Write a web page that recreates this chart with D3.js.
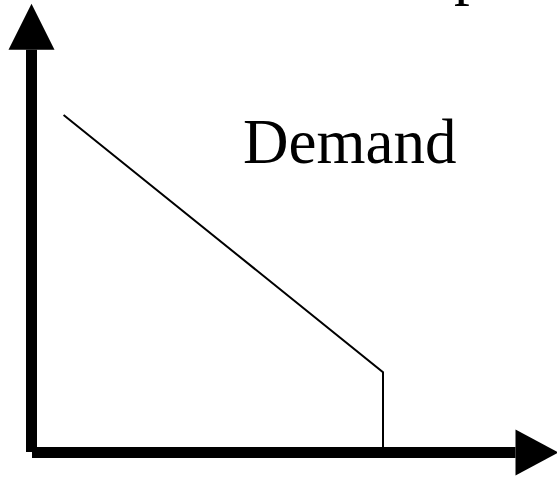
<!DOCTYPE html>
<html>
<head>
<meta charset="utf-8">
<script src="https://cdn.jsdelivr.net/npm/d3@7"></script>
<style>
  body { margin: 0; background: #fff; }
  svg { display: block; }
</style>
</head>
<body>
<svg width="557" height="477"></svg>
<script>
(function () {
  'use strict';

  // demand curve: quantity / price pairs, the kink then straight down to the axis
  var quantity = [0.9, 10, 10];
  var price = [10, 2.37, 0];

  // axis extents (tip of each arrow)
  var axisMaxQ = [15];
  var axisMaxP = [13.3];

  var labels = ["Demand", "p"];

  var svg = d3.select("svg"),
      width = +svg.attr("width"),
      height = +svg.attr("height");

  var x = d3.scaleLinear().domain([0, 10]).range([32, 383]);
  var y = d3.scaleLinear().domain([0, 10]).range([452, 115]);

  //axes drawn as thick strokes with solid arrow heads
  var head = 46, headLen = 43;

  svg.append("line")
      .attr("x1", x(0)).attr("y1", y(0) + 0.5)
      .attr("x2", x(axisMaxQ[0]) - headLen).attr("y2", y(0) + 0.5)
      .attr("stroke", "#000").attr("stroke-width", 11);

  svg.append("path")
      .attr("d", "M" + x(axisMaxQ[0]) + "," + (y(0) + 0.5) +
                 "L" + (x(axisMaxQ[0]) - headLen) + "," + (y(0) + 0.5 - head / 2) +
                 "L" + (x(axisMaxQ[0]) - headLen) + "," + (y(0) + 0.5 + head / 2) + "Z")
      .attr("fill", "#000");

  svg.append("line")
      .attr("x1", x(0) - 0.5).attr("y1", y(0))
      .attr("x2", x(0) - 0.5).attr("y2", y(axisMaxP[0]) + 46)
      .attr("stroke", "#000").attr("stroke-width", 11);

  svg.append("path")
      .attr("d", "M" + (x(0) - 0.5) + "," + y(axisMaxP[0]) +
                 "L" + (x(0) - 0.5 - head / 2) + "," + (y(axisMaxP[0]) + 46) +
                 "L" + (x(0) - 0.5 + head / 2) + "," + (y(axisMaxP[0]) + 46) + "Z")
      .attr("fill", "#000");

  //the demand line itself
  var line = d3.line()
      .x(function(d) { return x(d[0]); })
      .y(function(d) { return y(d[1]); });

  svg.append("path")
      .datum(d3.zip(quantity, price))
      .attr("d", line)
      .attr("fill", "none")
      .attr("stroke", "#000")
      .attr("stroke-width", 2);

  svg.append("text")
      .attr("x", 243)
      .attr("y", 163)
      .attr("font-family", "'Liberation Serif', 'Times New Roman', serif")
      .attr("font-size", 63)
      .text(labels[0]);

  // title letter mostly above the frame, only the descender shows
  svg.append("text")
      .attr("x", 454)
      .attr("y", -8)
      .attr("font-family", "'Liberation Serif', 'Times New Roman', serif")
      .attr("font-size", 63)
      .text(labels[1]);

}());
</script>
</body>
</html>
